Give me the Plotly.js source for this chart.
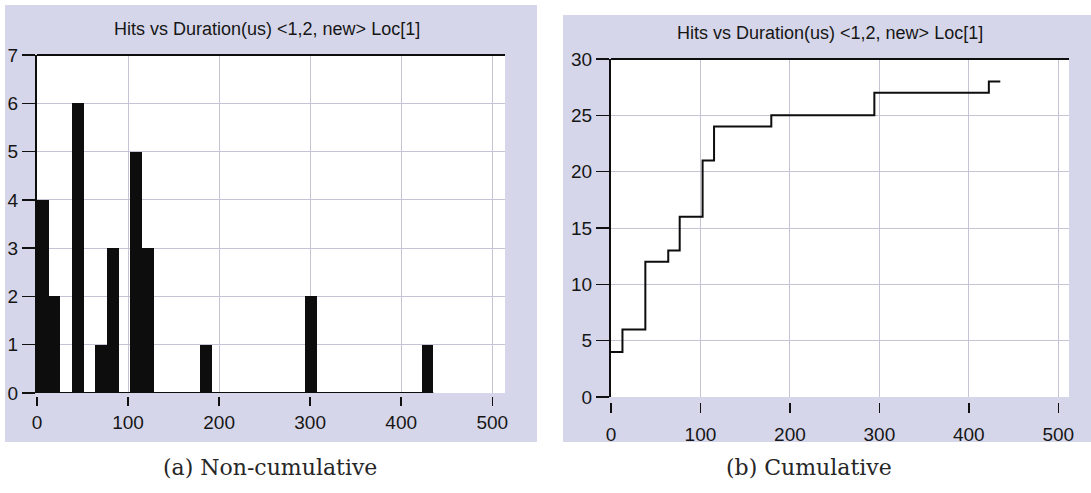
<!DOCTYPE html>
<html>
<head>
<meta charset="utf-8">
<script src="https://cdn.plot.ly/plotly-3.0.1.min.js"></script>
<style>
  html, body { margin: 0; padding: 0; background: #ffffff; }
  #chart { width: 1091px; height: 493px; }
</style>
</head>
<body>
<div id="chart"></div>
<script>
// ---- data ----
const chartTitle = "Hits vs Duration(us) <1,2, new> Loc[1]";
const captionLeft = "(a) Non-cumulative";
const captionRight = "(b) Cumulative";
const binStarts = [0, 12.8, 38.4, 64, 76.8, 102.4, 115.2, 179.2, 294.4, 422.4]; // duration (us)
const hits = [4, 2, 6, 1, 3, 5, 3, 1, 2, 1];
const binWidth = 12.8;
const xTickVals = [0, 100, 200, 300, 400, 500];
const leftYTicks = [0, 1, 2, 3, 4, 5, 6, 7];
const rightYTicks = [0, 5, 10, 15, 20, 25, 30];

// cumulative series derived from hits
const cumX = [];
const cumY = [];
let run = 0;
binStarts.forEach((b, i) => { run += hits[i]; cumX.push(b); cumY.push(run); });
cumX.push(binStarts[binStarts.length - 1] + binWidth);
cumY.push(run);

const W = 1091, H = 493;
const px = v => v / W;
const py = v => 1 - v / H;

const panel = '#d6d6ea';
const grid = '#c4c4d4';
const tickFont = { family: 'Liberation Sans, Arial, sans-serif', size: 19, color: '#161616' };
const titleFont = { family: 'Liberation Sans, Arial, sans-serif', size: 18, color: '#161616' };
const capFont = { family: 'DejaVu Serif, serif', size: 22, color: '#262626' };

const traces = [
  {
    type: 'bar', x: binStarts, y: hits, width: binWidth, offset: 0,
    marker: { color: '#0d0d0d', line: { width: 0 } },
    xaxis: 'x', yaxis: 'y', hoverinfo: 'skip'
  },
  {
    type: 'scatter', mode: 'lines',
    x: [binStarts[0], binStarts[binStarts.length - 1] + binWidth], y: [0, 0],
    line: { color: '#0d0d0d', width: 2 }, xaxis: 'x', yaxis: 'y', hoverinfo: 'skip'
  },
  {
    type: 'scatter', mode: 'lines', x: cumX, y: cumY,
    line: { color: '#0d0d0d', width: 2, shape: 'hv' },
    xaxis: 'x2', yaxis: 'y2', hoverinfo: 'skip'
  }
];

const xCommon = {
  ticks: 'outside', tickcolor: '#111', tickwidth: 1.5,
  tickvals: xTickVals, ticktext: xTickVals.map(String),
  showline: false, showgrid: true, gridcolor: grid, gridwidth: 1,
  zeroline: false, tickfont: tickFont, fixedrange: true
};
const yCommon = {
  ticks: 'outside', ticklen: 13, tickcolor: '#111', tickwidth: 1.5,
  showline: true, linecolor: '#0d0d0d', linewidth: 2,
  showgrid: true, gridcolor: grid, gridwidth: 1,
  zeroline: false, tickfont: tickFont, fixedrange: true
};

const layout = {
  width: W, height: H,
  margin: { l: 0, r: 0, t: 0, b: 0, pad: 0 },
  paper_bgcolor: '#ffffff', plot_bgcolor: '#ffffff',
  showlegend: false, bargap: 0,
  xaxis: Object.assign({}, xCommon, {
    domain: [px(37), px(505)], range: [0, 514],
    anchor: 'free', position: py(396), ticklen: 9
  }),
  yaxis: Object.assign({}, yCommon, {
    domain: [py(393), py(55)], range: [0, 7], anchor: 'x',
    tickvals: leftYTicks, ticktext: leftYTicks.map(String)
  }),
  xaxis2: Object.assign({}, xCommon, {
    domain: [px(611), px(1069)], range: [0, 512],
    anchor: 'free', position: py(402), ticklen: 10, ticklabelstandoff: 5
  }),
  yaxis2: Object.assign({}, yCommon, {
    domain: [py(397), py(59)], range: [0, 30], anchor: 'x2',
    tickvals: rightYTicks, ticktext: rightYTicks.map(String)
  }),
  shapes: [
    { type: 'rect', xref: 'paper', yref: 'paper', x0: px(5), x1: px(537), y0: py(442), y1: py(5),
      fillcolor: panel, line: { width: 0 }, layer: 'below' },
    { type: 'rect', xref: 'paper', yref: 'paper', x0: px(563), x1: 1, y0: py(442), y1: py(15),
      fillcolor: panel, line: { width: 0 }, layer: 'below' },
    { type: 'rect', xref: 'x domain', yref: 'y domain', x0: 0, x1: 1, y0: 0, y1: 1,
      fillcolor: '#ffffff', line: { width: 0 }, layer: 'below' },
    { type: 'rect', xref: 'x2 domain', yref: 'y2 domain', x0: 0, x1: 1, y0: 0, y1: 1,
      fillcolor: '#ffffff', line: { width: 0 }, layer: 'below' },
    { type: 'line', xref: 'x domain', yref: 'y domain', x0: 0, x1: 1, y0: 1, y1: 1,
      line: { color: '#0d0d0d', width: 2 } },
    { type: 'line', xref: 'x2 domain', yref: 'y2 domain', x0: 0, x1: 1, y0: 1, y1: 1,
      line: { color: '#0d0d0d', width: 2 } }
  ],
  annotations: [
    { text: chartTitle, xref: 'paper', yref: 'paper', x: px(267), y: py(29),
      xanchor: 'center', yanchor: 'middle', showarrow: false, font: titleFont },
    { text: chartTitle, xref: 'paper', yref: 'paper', x: px(830), y: py(33),
      xanchor: 'center', yanchor: 'middle', showarrow: false, font: titleFont },
    { text: captionLeft, xref: 'paper', yref: 'paper', x: px(270), y: py(467),
      xanchor: 'center', yanchor: 'middle', showarrow: false, font: capFont },
    { text: captionRight, xref: 'paper', yref: 'paper', x: px(809), y: py(467),
      xanchor: 'center', yanchor: 'middle', showarrow: false, font: capFont }
  ]
};

Plotly.newPlot('chart', traces, layout, { staticPlot: true, displayModeBar: false });
</script>
</body>
</html>
